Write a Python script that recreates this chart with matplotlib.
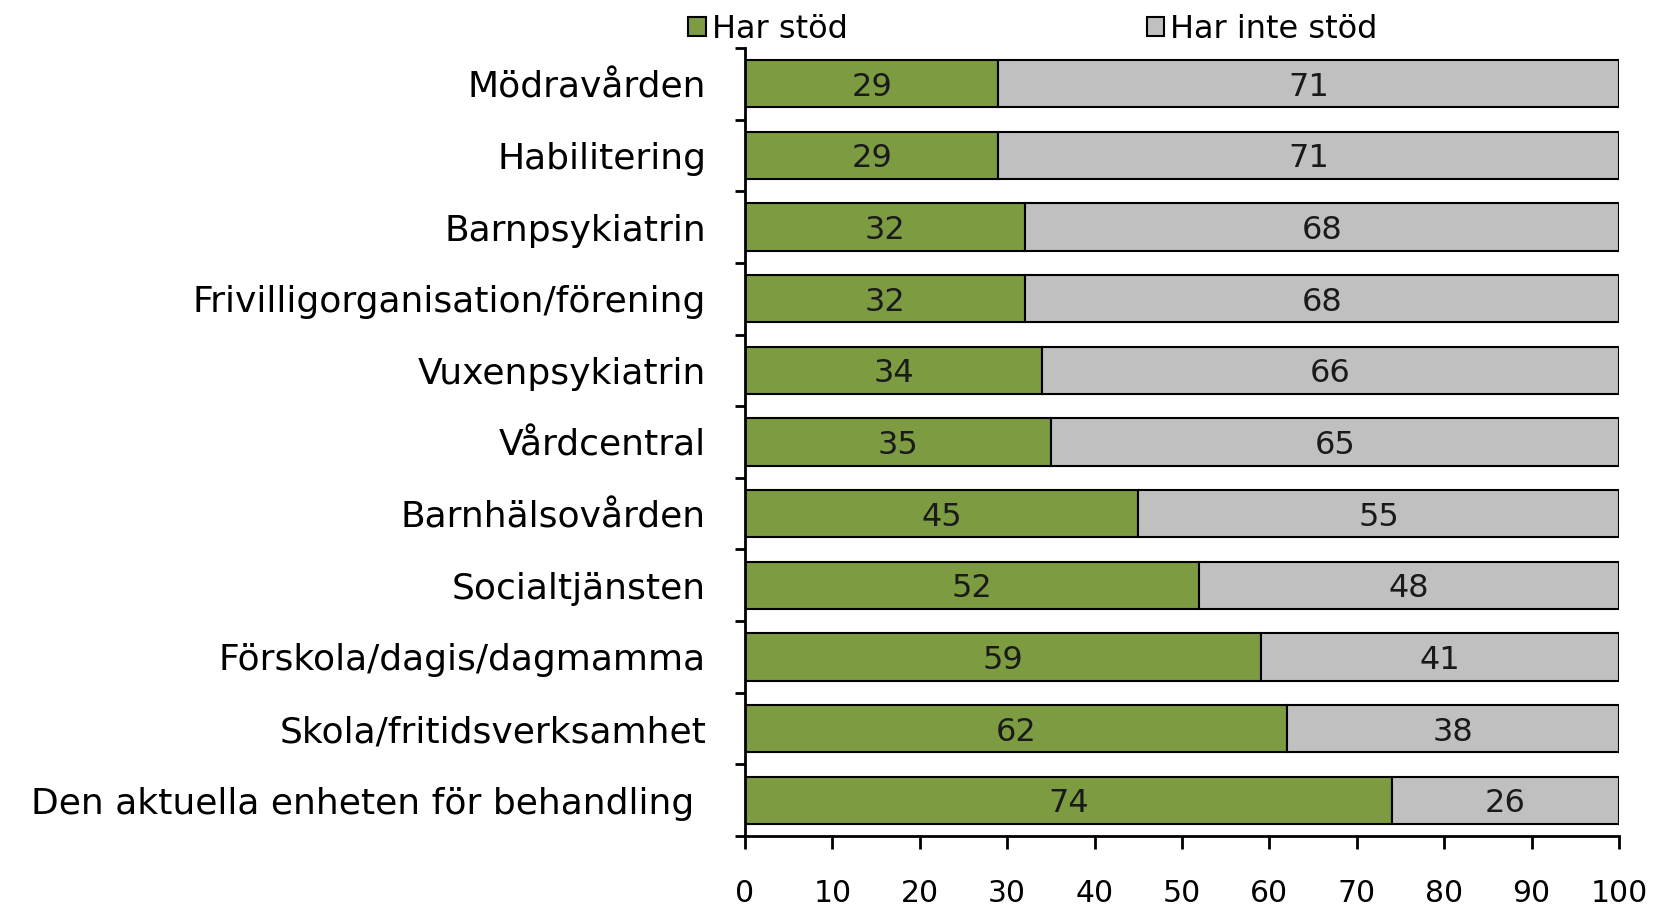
import matplotlib
matplotlib.use("Agg")
import matplotlib.pyplot as plt

categories = [
    "Mödravården",
    "Habilitering",
    "Barnpsykiatrin",
    "Frivilligorganisation/förening",
    "Vuxenpsykiatrin",
    "Vårdcentral",
    "Barnhälsovården",
    "Socialtjänsten",
    "Förskola/dagis/dagmamma",
    "Skola/fritidsverksamhet",
    "Den aktuella enheten för behandling ",
]
har_stod = [29, 29, 32, 32, 34, 35, 45, 52, 59, 62, 74]
har_inte_stod = [71, 71, 68, 68, 66, 65, 55, 48, 41, 38, 26]
series_names = ["Har stöd", "Har inte stöd"]
xticks = [0, 10, 20, 30, 40, 50, 60, 70, 80, 90, 100]

green = "#7D9C42"
grey = "#C0C0C0"

plt.rcParams['font.family'] = ['DejaVu Sans']

fig = plt.figure(figsize=(16.53, 9.05), dpi=100)
ax = fig.add_axes([745 / 1653, 1 - 836 / 905, (1619 - 745) / 1653, (836 - 48) / 905])

y = list(range(len(categories)))
b1 = ax.barh(y, har_stod, height=0.66, color=green, edgecolor="black", linewidth=1.5)
b2 = ax.barh(y, har_inte_stod, left=har_stod, height=0.66, color=grey,
             edgecolor="black", linewidth=1.5)

for i in y:
    ax.text(har_stod[i] / 2, i, str(har_stod[i]), ha="center", va="center_baseline",
            fontsize=23, color="#1a1a1a")
    ax.text(har_stod[i] + har_inte_stod[i] / 2, i, str(har_inte_stod[i]),
            ha="center", va="center_baseline", fontsize=23, color="#1a1a1a")

ax.set_xlim(0, 100)
ax.set_ylim(len(categories) - 0.5, -0.5)
ax.set_xticks(xticks)
ax.set_xticklabels([str(t) for t in xticks], fontsize=21.5)
ax.set_yticks(y)
ax.set_yticklabels(categories, fontsize=26)
ax.tick_params(axis="y", length=0, pad=28)
ax.set_yticks([i - 0.5 for i in range(len(categories) + 1)], minor=True)
ax.tick_params(axis="y", which="minor", length=7, width=2, direction="out")
ax.tick_params(axis="x", length=9, width=2, direction="out", pad=22)
for s in ["top", "right"]:
    ax.spines[s].set_visible(False)
for s in ["left", "bottom"]:
    ax.spines[s].set_linewidth(2)

leg = fig.legend([b1, b2], series_names, loc="center left",
                 bbox_to_anchor=(688 / 1653, 1 - 29 / 905), ncol=2, frameon=False,
                 fontsize=23, handlelength=0.55, handleheight=0.55,
                 handletextpad=0.2, columnspacing=9.35, borderpad=0, borderaxespad=0)

fig.savefig("out.png", dpi=100)
